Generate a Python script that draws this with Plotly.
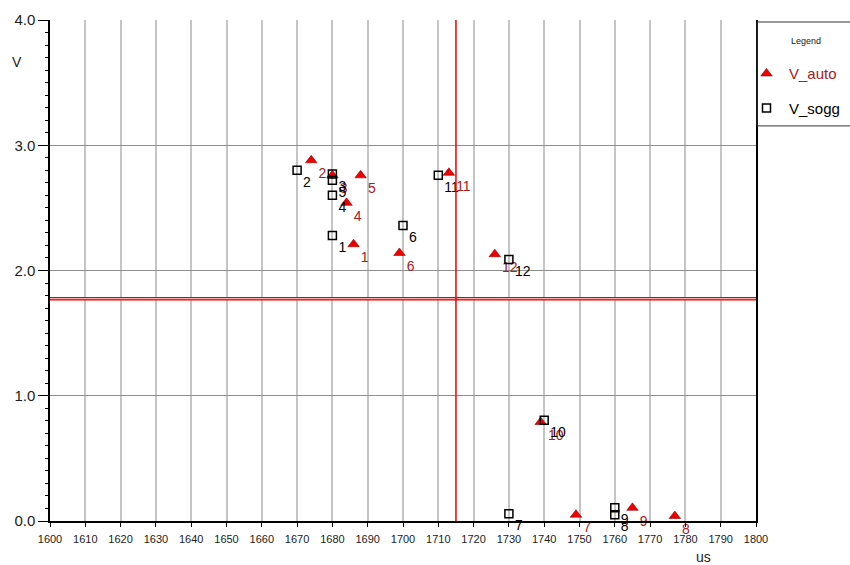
import plotly.graph_objects as go

# Measurements: time in us, voltage in V, for points 1..12
point_ids = [str(i) for i in range(1, 13)]

us_auto = [1686, 1674, 1680, 1684, 1688, 1699, 1749, 1777, 1765, 1739, 1713, 1726]
v_auto = [2.21, 2.88, 2.76, 2.54, 2.76, 2.14, 0.05, 0.04, 0.105, 0.79, 2.78, 2.13]

us_sogg = [1680, 1670, 1680, 1680, 1680, 1700, 1730, 1760, 1760, 1740, 1710, 1730]
v_sogg = [2.28, 2.80, 2.77, 2.60, 2.72, 2.36, 0.057, 0.05, 0.105, 0.805, 2.76, 2.087]

# Threshold cross-hair
us_threshold = 1715
v_threshold = 1.775

x_ticks = list(range(1600, 1801, 10))
y_ticks = [0, 1, 2, 3, 4]

FONT = "Liberation Sans, Arial, sans-serif"
RED = "#ee0000"
DARK_RED = "#a82020"

fig = go.Figure()

fig.add_trace(go.Scatter(
    x=us_auto, y=v_auto, mode="markers+text",
    name=f"<span style='color:{DARK_RED}'>V_auto</span>",
    text=point_ids, textposition="bottom right",
    textfont=dict(family=FONT, size=14, color=DARK_RED),
    marker=dict(symbol="triangle-up", size=10, color=RED,
                line=dict(color="#990000", width=0.6)),
    legendgroup="auto", cliponaxis=False,
))

fig.add_trace(go.Scatter(
    x=us_sogg, y=v_sogg, mode="markers+text", name="V_sogg",
    text=point_ids, textposition="bottom right",
    textfont=dict(family=FONT, size=14, color="black"),
    marker=dict(symbol="square-open", size=8, color="black",
                line=dict(color="black", width=1.5)),
    legendgroup="sogg", cliponaxis=False,
))

# Threshold lines: a double red horizontal line and a single red vertical line
fig.add_shape(type="line", xref="x", yref="y", x0=x_ticks[0], x1=x_ticks[-1],
              y0=v_threshold, y1=v_threshold, line=dict(color=RED, width=3.5))
fig.add_shape(type="line", xref="x", yref="y", x0=x_ticks[0], x1=x_ticks[-1],
              y0=v_threshold, y1=v_threshold, line=dict(color="#ffd0d0", width=1))
fig.add_shape(type="line", xref="x", yref="y", x0=us_threshold, x1=us_threshold,
              y0=y_ticks[0], y1=y_ticks[-1], line=dict(color=RED, width=1.5))

# Legend frame (runs past the right edge of the page)
fig.add_shape(type="rect", xref="paper", yref="paper", x0=1.0015, x1=1.15,
              y0=0.7886, y1=0.996, line=dict(color="#333", width=1),
              fillcolor="rgba(0,0,0,0)", layer="above")

fig.update_xaxes(
    range=[x_ticks[0], x_ticks[-1]], tickvals=x_ticks,
    tickfont=dict(family=FONT, size=11, color="#222"),
    showgrid=True, gridcolor="#c4c4c4", gridwidth=1.5,
    showline=True, linecolor="black", linewidth=1.5,
    ticks="outside", ticklen=4, tickcolor="black", ticklabelstandoff=3,
    zeroline=False,
)
fig.update_yaxes(
    range=[y_ticks[0], y_ticks[-1]], tickvals=y_ticks, tickformat=".1f",
    tickfont=dict(family=FONT, size=15, color="#222"),
    showgrid=True, gridcolor="#8f8f8f", gridwidth=1.2,
    showline=True, linecolor="black", linewidth=1.5, mirror=True,
    ticks="outside", ticklen=10, tickcolor="black",
    minor=dict(dtick=0.1, ticks="outside", ticklen=3, tickcolor="black", showgrid=False),
    zeroline=False,
)

# Axis titles
fig.add_annotation(text="V", xref="paper", yref="paper", x=-0.047, y=0.916,
                   xanchor="center", yanchor="middle", showarrow=False,
                   font=dict(family=FONT, size=14, color="#222"))
fig.add_annotation(text="us", xref="paper", yref="paper", x=0.926, y=-0.071,
                   xanchor="center", yanchor="middle", showarrow=False,
                   font=dict(family=FONT, size=14, color="#222"))
# Legend heading, centred over the legend box
fig.add_annotation(text="Legend", xref="paper", yref="paper", x=1.071, y=0.958,
                   xanchor="center", yanchor="middle", showarrow=False,
                   font=dict(family=FONT, size=9, color="#222"))

fig.update_layout(
    width=850, height=565,
    margin=dict(l=50, r=94, t=20, b=44, autoexpand=False),
    paper_bgcolor="white", plot_bgcolor="white",
    font=dict(family=FONT),
    showlegend=True,
    legend=dict(
        x=0.983, y=0.988, xanchor="left", yanchor="top",
        borderwidth=0, bgcolor="rgba(0,0,0,0)",
        title=dict(text="&nbsp;<br>&nbsp;<br>&nbsp;", side="top",
                   font=dict(family=FONT, size=8, color="#222")),
        font=dict(family=FONT, size=15, color="black"),
        tracegroupgap=12, itemwidth=35, entrywidth=90,
    ),
)

fig.write_html("out.html")
